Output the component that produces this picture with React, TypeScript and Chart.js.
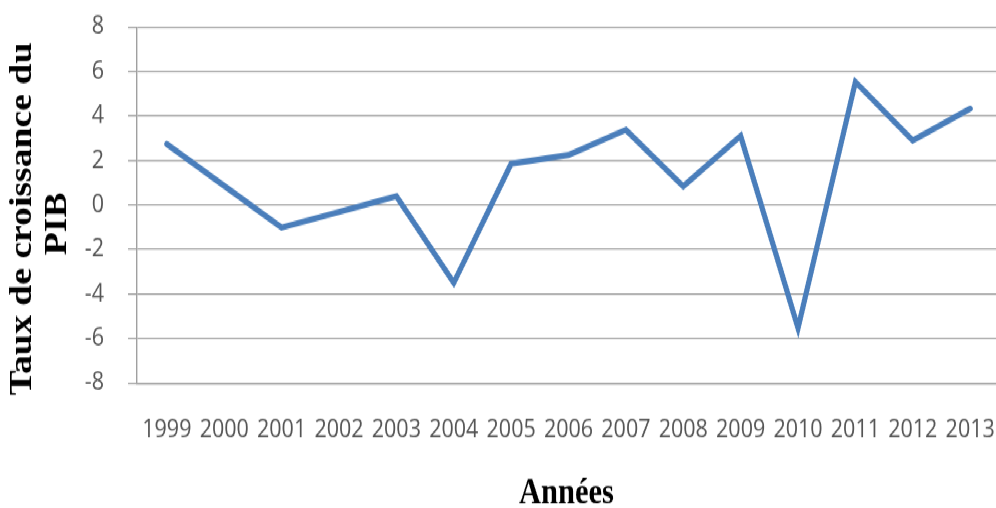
import React, { useEffect, useRef } from "react";
import { Chart, registerables } from "chart.js";

Chart.register(...registerables);

const years = [1999, 2000, 2001, 2002, 2003, 2004, 2005, 2006, 2007, 2008, 2009, 2010, 2011, 2012, 2013];
const growth = [2.74, 0.86, -1.02, -0.31, 0.39, -3.5, 1.85, 2.25, 3.38, 0.84, 3.1, -5.53, 5.53, 2.9, 4.33];
const yMin = -8;
const yMax = 8;
const yStep = 2;
const yTitle = ["Taux de croissance du\u00A0\u00A0\u00A0", "PIB\u00A0\u00A0\u00A0\u00A0"];
const xTitle = "Années";

const GRID = "#a0a0a0";
const TICK_COLOR = "#555555";
const LINE = "#4a7ebb";
const TICK_FONT = "'Open Sans', sans-serif";
const TITLE_FONT = "'Liberation Serif', 'Times New Roman', serif";

// The reference picture is stretched vertically; draw at a reduced height and stretch with CSS.
const W = 996;
const H = 438;
const K = 508 / H;

export default function App() {
  const ref = useRef<HTMLCanvasElement | null>(null);

  useEffect(() => {
    if (!ref.current) return;
    const chart = new Chart(ref.current, {
      type: "line",
      data: {
        datasets: [
          {
            data: years.map((yr, i) => ({ x: yr, y: growth[i] })),
            borderColor: LINE,
            borderWidth: 5.2,
            pointRadius: 0,
            tension: 0,
            fill: false,
            borderCapStyle: "round",
          },
        ],
      },
      options: {
        responsive: false,
        animation: false,
        events: [],
        layout: { padding: { top: 27 / K, left: 0, right: 0, bottom: 0 } },
        plugins: { legend: { display: false }, tooltip: { enabled: false } },
        scales: {
          x: {
            type: "linear",
            min: 1998.48,
            max: 2013.45,
            afterBuildTicks: (s: any) => {
              s.ticks = years.map((v) => ({ value: v }));
            },
            afterFit: (s: any) => {
              s.height = 125 / K;
              s.paddingLeft = 0;
              s.paddingRight = 0;
            },
            ticks: {
              autoSkip: false,
              maxRotation: 0,
              padding: 27.5,
              color: TICK_COLOR,
              font: { family: TICK_FONT, size: 21.5 },
              callback: (v: any) => String(v),
            },
            grid: { display: false, drawTicks: false },
            border: { display: true, color: GRID, width: 1.4 },
            title: {
              display: true,
              text: xTitle,
              color: "#000",
              font: { family: TITLE_FONT, size: 30.5, weight: "bold", lineHeight: "24px" },
              padding: { top: 0, bottom: 0 },
            },
          },
          y: {
            min: yMin,
            max: yMax,
            afterFit: (s: any) => {
              s.width = 137;
              s.paddingTop = 0;
              s.paddingBottom = 0;
            },
            ticks: {
              stepSize: yStep,
              padding: 24,
              color: TICK_COLOR,
              font: { family: TICK_FONT, size: 21.5 },
            },
            grid: { color: GRID, lineWidth: 1.3, drawTicks: true, tickLength: 9 },
            border: { display: true, color: GRID, width: 1.4 },
            title: {
              display: true,
              text: yTitle,
              color: "#000",
              font: { family: TITLE_FONT, size: 32.5, weight: "bold", lineHeight: "35px" },
              padding: { top: 4.8, bottom: 0 },
            },
          },
        },
      },
    } as any);
    return () => chart.destroy();
  }, []);

  return (
    <div
      style={{
        position: "absolute",
        left: 0,
        top: 0,
        width: W,
        height: H,
        background: "#fff",
        transform: `scaleY(${K})`,
        transformOrigin: "0 0",
      }}
    >
      <canvas ref={ref} width={W} height={H} style={{ display: "block", width: W, height: H }} />
    </div>
  );
}
